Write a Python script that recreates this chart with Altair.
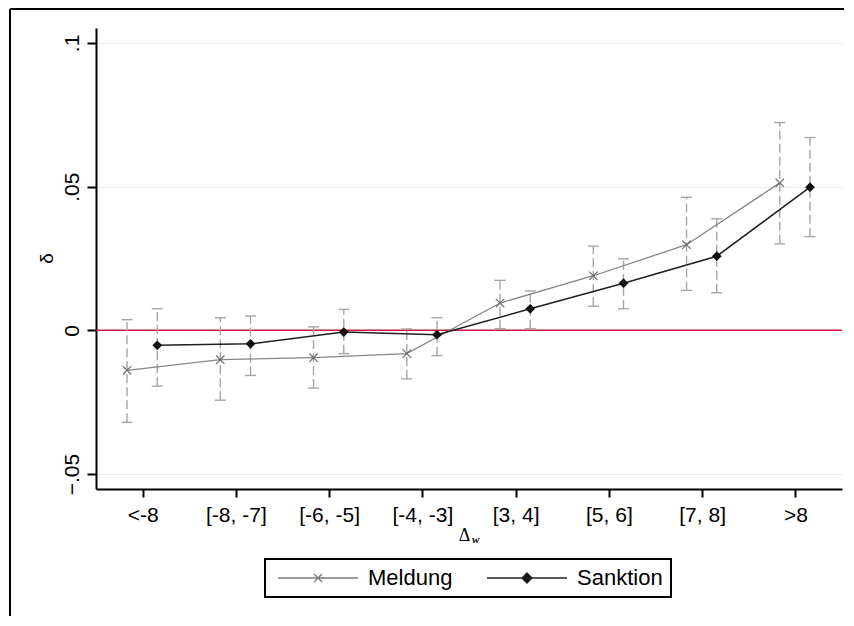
import json
import altair as alt
import pandas as pd

categories = ["<-8", "[-8, -7]", "[-6, -5]", "[-4, -3]", "[3, 4]", "[5, 6]", "[7, 8]", ">8"]
series_names = ["Meldung", "Sanktion"]

meldung_est = [-0.0139, -0.0102, -0.0095, -0.0081, 0.0095, 0.0190, 0.0298, 0.0513]
meldung_lo = [-0.0320, -0.0243, -0.0201, -0.0169, 0.0006, 0.0084, 0.0139, 0.0301]
meldung_hi = [0.0037, 0.0044, 0.0012, 0.0005, 0.0174, 0.0293, 0.0463, 0.0723]

sanktion_est = [-0.0052, -0.0047, -0.0006, -0.0015, 0.0075, 0.0164, 0.0258, 0.0498]
sanktion_lo = [-0.0194, -0.0157, -0.0081, -0.0088, 0.0006, 0.0075, 0.0131, 0.0326]
sanktion_hi = [0.0075, 0.0050, 0.0073, 0.0044, 0.0137, 0.0249, 0.0388, 0.0671]

y_ticks = [-0.05, 0, 0.05, 0.1]
ref_line = [0.0]

rows = []
for name, est, lo, hi in [
    ("Meldung", meldung_est, meldung_lo, meldung_hi),
    ("Sanktion", sanktion_est, sanktion_lo, sanktion_hi),
]:
    for i, cat in enumerate(categories):
        rows.append({"series": name, "pos": i + 1, "cat": cat,
                     "est": est[i], "lo": lo[i], "hi": hi[i]})
df = pd.DataFrame(rows)

xscale = alt.Scale(domain=[0.5, 8.5], nice=False, zero=False)
yscale = alt.Scale(domain=[-0.0552, 0.1052], nice=False, zero=False)

x_axis = alt.Axis(
    values=list(range(1, len(categories) + 1)),
    labelExpr=json.dumps(categories) + "[datum.value - 1]",
    title="Δ", titleFont="Liberation Serif", titleFontSize=18, titleFontWeight="normal",
    titleColor="black", titleX=368, titleY=51, titleAlign="center", titleBaseline="alphabetic",
    grid=False, tickSize=8, tickWidth=2, tickColor="black",
    domainColor="black", domainWidth=2,
    labelFont="Liberation Sans", labelFontSize=21, labelColor="black",
    labelPadding=7, labelFlush=False, labelOverlap=False,
)
y_axis = alt.Axis(
    values=y_ticks,
    labelExpr="datum.value == 0 ? '0' : replace(format(datum.value, '.2~f'), '0.', '.')",
    labelAngle=270, labelAlign="center", labelBaseline="alphabetic", labelPadding=9,
    labelFont="Liberation Sans", labelFontSize=21, labelColor="black",
    labelFlush=False, labelOverlap=False,
    tickSize=9, tickWidth=2, tickColor="black", domainColor="black", domainWidth=2,
    grid=True, gridColor="#e4edf0", gridWidth=1.2,
    title="δ", titleAngle=270, titleX=-44, titleY=230, titleAlign="center",
    titleBaseline="alphabetic", titleFont="Liberation Sans", titleFontSize=19,
    titleFontWeight="normal", titleColor="black",
)

base = alt.Chart(df).transform_calculate(
    xp="datum.pos + (datum.series == 'Meldung' ? -0.167 : 0.157)"
).transform_calculate(
    c1="datum.xp - 0.059", c2="datum.xp + 0.059"
)

X = alt.X("xp:Q", scale=xscale, axis=x_axis)
meld = base.transform_filter("datum.series == 'Meldung'")
sank = base.transform_filter("datum.series == 'Sanktion'")

red = alt.Chart(pd.DataFrame({"y": ref_line})).mark_rule(color="#cc1440", strokeWidth=1.5).encode(
    y=alt.Y("y:Q", scale=yscale, axis=y_axis)
)

ci_color = "#a6a6a6"
ci = base.mark_rule(color=ci_color, strokeWidth=1.4, strokeDash=[9, 4]).encode(
    x=X, y=alt.Y("lo:Q", scale=yscale, axis=y_axis), y2="hi:Q"
)
cap_hi = base.mark_rule(color=ci_color, strokeWidth=1.4).encode(
    x=alt.X("c1:Q", scale=xscale, axis=x_axis), x2="c2:Q",
    y=alt.Y("hi:Q", scale=yscale, axis=y_axis)
)
cap_lo = base.mark_rule(color=ci_color, strokeWidth=1.4).encode(
    x=alt.X("c1:Q", scale=xscale, axis=x_axis), x2="c2:Q",
    y=alt.Y("lo:Q", scale=yscale, axis=y_axis)
)

Y = alt.Y("est:Q", scale=yscale, axis=y_axis)
line_m = meld.mark_line(color="#858585", strokeWidth=1.3).encode(x=X, y=Y, order="pos:Q")
line_s = sank.mark_line(color="#1f1f1f", strokeWidth=1.5).encode(x=X, y=Y, order="pos:Q")

x_path = "M-1,-1L1,1M-1,1L1,-1"
pts_m = meld.mark_point(shape=x_path, size=70, color="#6e6e6e", strokeWidth=1.2, opacity=1).encode(x=X, y=Y)
pts_s = sank.mark_point(shape="diamond", size=95, filled=True, color="#111111", opacity=1).encode(x=X, y=Y)

leg = alt.Legend(
    title=None, orient="none", legendX=169, legendY=531, direction="horizontal",
    columns=2, columnPadding=29, padding=8, strokeColor="black",
    symbolSize=100, symbolStrokeWidth=1.4, symbolOffset=34, labelOffset=39,
    symbolOpacity=1,
    labelFont="Liberation Sans", labelFontSize=22, labelColor="black",
)
path_m = "M-8,0H8M-0.8,-0.8L0.8,0.8M-0.8,0.8L0.8,-0.8"
path_s = "M-8,0H8M0,-1L1,0L0,1L-1,0Z"
legend_layer = base.transform_filter("false").mark_point(filled=True, opacity=1).encode(
    x=X, y=Y,
    fill=alt.Fill("series:N", scale=alt.Scale(domain=series_names, range=["#7a7a7a", "#111111"]), legend=leg),
    stroke=alt.Stroke("series:N", scale=alt.Scale(domain=series_names, range=["#7a7a7a", "#222222"]), legend=leg),
    shape=alt.Shape("series:N", scale=alt.Scale(domain=series_names, range=[path_m, path_s]), legend=leg),
)

one = pd.DataFrame({"k": [0]})
frame_left = alt.Chart(one).mark_rule(color="black", strokeWidth=2).encode(
    x=alt.value(-86), y=alt.value(-19), y2=alt.value(588)
)
frame_top = alt.Chart(one).mark_rule(color="black", strokeWidth=2).encode(
    x=alt.value(-86), x2=alt.value(748), y=alt.value(-19)
)
sub_w = alt.Chart(one).mark_text(
    text="w", font="Liberation Serif", fontSize=11, fontStyle="italic", fontWeight="bold",
    align="left", baseline="alphabetic", color="black"
).encode(x=alt.value(376), y=alt.value(515))

chart = alt.layer(
    red, ci, cap_hi, cap_lo, line_m, line_s, pts_m, pts_s, legend_layer,
    frame_left, frame_top, sub_w
).properties(
    width=746, height=461,
    padding={"left": 1, "top": 0, "right": 0, "bottom": 0},
).configure_view(strokeWidth=0).configure_legend(strokeWidth=2)

chart.save("out.html", embed_options={"renderer": "svg", "actions": False})
